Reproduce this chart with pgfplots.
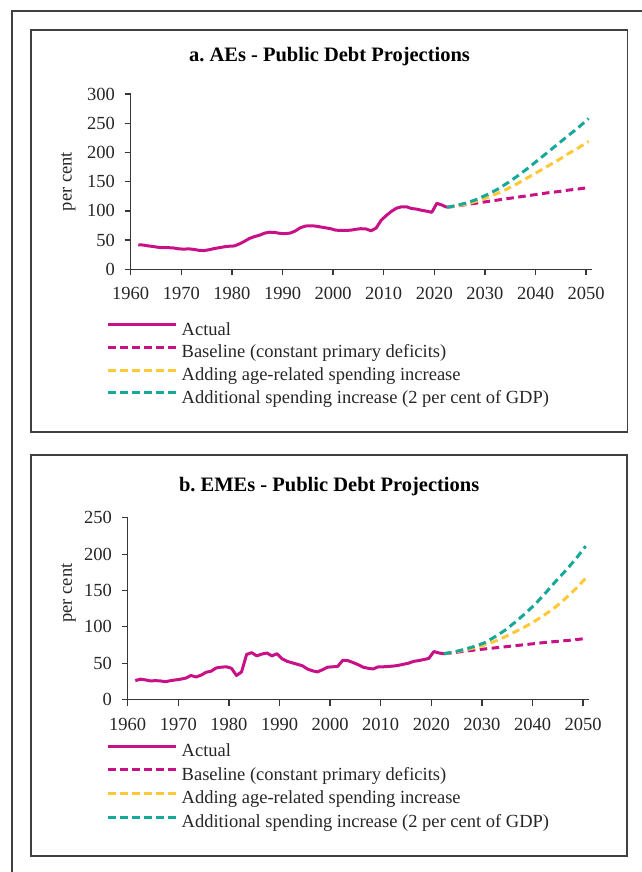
\documentclass[border=0pt]{standalone}
\usepackage{fontspec}
\setmainfont{Liberation Serif}
\usepackage{pgfplots}
\pgfplotsset{compat=1.18}
\frenchspacing
\definecolor{mag}{RGB}{200,16,135}
\definecolor{tealc}{RGB}{22,168,152}
\definecolor{yel}{RGB}{255,200,55}
\definecolor{axgray}{RGB}{55,55,55}
\newcommand{\tfont}{\fontsize{18.5}{22}\selectfont}
\pgfplotsset{
  panel/.style={
    scale only axis, width=461pt,
    axis lines=left, axis line style={-, line width=1.3pt, color=axgray},
    tick align=outside, major tick length=6pt,
    tick style={line width=1.3pt, color=axgray},
    xmin=1959.5, xmax=2050.6,
    xtick={1959.5,1969.5,1979.5,1989.5,1999.5,2009.5,2019.5,2029.5,2039.5,2049.5},
    xticklabels={1960,1970,1980,1990,2000,2010,2020,2030,2040,2050},
    ymin=0,
    /pgf/number format/assume math mode=true,
    every tick label/.append style={font=\tfont, text=black!85},
    yticklabel style={anchor=east, inner sep=0pt, xshift=-9.6pt},
    xticklabel style={anchor=north, inner sep=0pt, yshift=-12pt},
    ylabel={per cent},
    label style={font=\tfont, text=black!85},
    title style={anchor=center, font=\bfseries\fontsize{20.5}{24}\selectfont},
    legend cell align=left,
    legend image code/.code={\draw[#1] (0pt,6pt) -- (68pt,6pt);},
    legend style={draw=none, fill=none, inner sep=0pt, outer sep=0pt, anchor=north west,
      column sep=4pt, font=\tfont, text=black!85,
      nodes={inner sep=0pt, text height=13pt, text depth=4pt}},
  },
  act/.style={mag, line width=3pt, line join=round},
  proj/.style={line width=3pt, dash pattern=on 7.5pt off 4.5pt},
}
\begin{document}
\begin{tikzpicture}
\useasboundingbox (0,0) rectangle (641pt,-872pt);
\draw[line width=1.6pt, black!75] (12pt,-873pt) -- (12pt,-11pt) -- (642pt,-11pt);
\draw[line width=1.6pt, black!75] (31pt,-30pt) rectangle (627.3pt,-432pt);
\draw[line width=1.6pt, black!75] (31pt,-455pt) rectangle (627pt,-855.7pt);

% ---------- panel a
\begin{axis}[panel, at={(130.7pt,-269.3pt)}, anchor=south west,
  height=175.3pt, ymax=300, ytick={0,50,...,300},
  title={a. AEs - Public Debt Projections},
  title style={at={(axis description cs:0.4312,1.177)}},
  ylabel style={at={(axis description cs:-0.1354,0.5)}, anchor=center},
  legend style={at={(axis description cs:-0.0521,-0.3026)}, row sep=5.6pt}]
\addplot[act] coordinates {
(1961,42) (1962,41.5) (1963,40) (1964,39) (1965,37.5) (1966,37) (1967,37) (1968,36.5)
(1969,35) (1970,34.5) (1971,35) (1972,34) (1973,32.5) (1974,32) (1975,33.5) (1976,35.5)
(1977,37) (1978,38.5) (1979,39.5) (1980,40) (1981,43.5) (1982,48) (1983,53) (1984,56)
(1985,58.5) (1986,62) (1987,63.5) (1988,63) (1989,61.5) (1990,61) (1991,62) (1992,65.5)
(1993,71) (1994,74) (1995,74.5) (1996,74) (1997,72.5) (1998,71) (1999,69.5) (2000,67)
(2001,66.5) (2002,66.5) (2003,67) (2004,68.5) (2005,69.5) (2006,69) (2007,66) (2008,70.5)
(2009,84) (2010,92) (2011,99) (2012,104.5) (2013,107) (2014,107) (2015,104) (2016,103)
(2017,101) (2018,99.5) (2019,97.5) (2020,113) (2021,110) (2022,106)};
\addlegendentry{Actual}
\addplot[proj, mag] coordinates {
(2022,106) (2024,108.5) (2026,111) (2028,113.5) (2030,116) (2032,118.5) (2034,121) (2036,123.5)
(2038,126) (2040,128.5) (2042,131) (2044,133) (2046,135.5) (2048,137.5) (2050,140)};
\addlegendentry{Baseline (constant primary deficits)}
\addplot[proj, yel] coordinates {
(2022,106) (2024,108.5) (2026,112) (2028,117) (2030,123) (2032,130) (2034,138) (2036,147)
(2038,157) (2040,167) (2042,177) (2044,187) (2046,198) (2048,208) (2050,219)};
\addlegendentry{Adding age-related spending increase}
\addplot[proj, tealc] coordinates {
(2022,106) (2024,109.5) (2026,114) (2028,120) (2030,128) (2032,137) (2034,148) (2036,160)
(2038,173) (2040,187) (2042,201) (2044,215) (2046,229) (2048,243) (2050,258)};
\addlegendentry{Additional spending increase (2 per cent of GDP)}
\end{axis}

% ---------- panel b
\begin{axis}[panel, at={(127.7pt,-699.5pt)}, anchor=south west,
  height=181.7pt, ymax=250, ytick={0,50,...,250},
  title={b. EMEs - Public Debt Projections},
  title style={at={(axis description cs:0.437,1.1386)}},
  ylabel style={at={(axis description cs:-0.128,0.586)}, anchor=center},
  legend style={at={(axis description cs:-0.0455,-0.2436)}, row sep=6.6pt}]
\addplot[act] coordinates {
(1961,26) (1962,28) (1963,27) (1964,25.5) (1965,26) (1966,25.5) (1967,24.5) (1968,26)
(1969,27) (1970,28) (1971,29.5) (1972,33) (1973,31) (1974,33.5) (1975,37.5) (1976,39)
(1977,43.5) (1978,44.5) (1979,45) (1980,43) (1981,33) (1982,38) (1983,62) (1984,64.5)
(1985,60) (1986,62.5) (1987,64) (1988,60) (1989,63) (1990,56) (1991,52.5) (1992,50.5)
(1993,48.5) (1994,46.5) (1995,42) (1996,39.5) (1997,38) (1998,41) (1999,44.5) (2000,45)
(2001,45.5) (2002,54) (2003,53.5) (2004,51) (2005,48) (2006,44.5) (2007,43) (2008,42)
(2009,45) (2010,45) (2011,45.5) (2012,46) (2013,47) (2014,48.5) (2015,50) (2016,52.5)
(2017,53.5) (2018,55) (2019,56.5) (2020,66) (2021,64) (2022,63)};
\addlegendentry{Actual}
\addplot[proj, mag] coordinates {
(2022,63) (2024,64.5) (2026,66.5) (2028,68) (2030,69.5) (2032,71) (2034,72.5) (2036,74)
(2038,75.5) (2040,77) (2042,78.5) (2044,79.8) (2046,81) (2048,82.3) (2050,84)};
\addlegendentry{Baseline (constant primary deficits)}
\addplot[proj, yel] coordinates {
(2022,63) (2024,65) (2026,68) (2028,71) (2030,75) (2032,80) (2034,86) (2036,93)
(2038,100) (2040,108) (2042,117) (2044,127) (2046,139) (2048,152) (2050,167)};
\addlegendentry{Adding age-related spending increase}
\addplot[proj, tealc] coordinates {
(2022,63) (2024,65.5) (2026,69) (2028,73) (2030,78) (2032,86) (2034,95) (2036,106)
(2038,118) (2040,131) (2042,146) (2044,162) (2046,177) (2048,193) (2050,211)};
\addlegendentry{Additional spending increase (2 per cent of GDP)}
\end{axis}
\end{tikzpicture}
\end{document}
